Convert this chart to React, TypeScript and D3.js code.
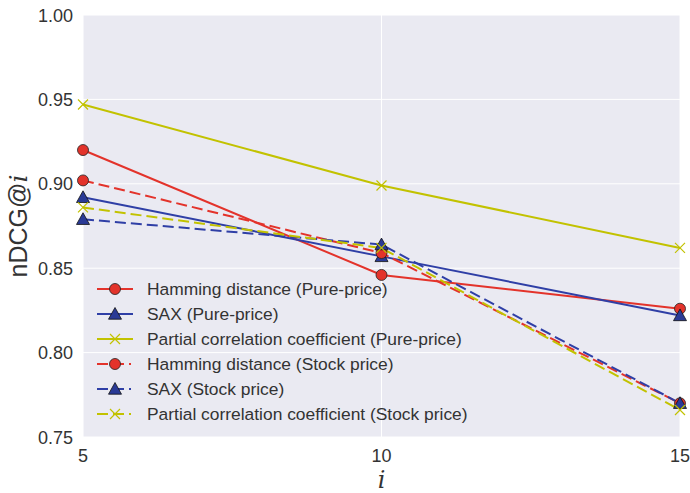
import { useEffect, useRef } from "react";
import * as d3 from "d3";

const ks = [5, 10, 15];
const hammingPure = [0.92, 0.846, 0.826];
const saxPure = [0.892, 0.857, 0.822];
const pccPure = [0.947, 0.899, 0.862];
const hammingStock = [0.902, 0.859, 0.77];
const saxStock = [0.879, 0.864, 0.77];
const pccStock = [0.886, 0.862, 0.766];
const yTicks = [0.75, 0.8, 0.85, 0.9, 0.95, 1.0];

const RED = "#e3332b";
const BLUE = "#2f3fa6";
const YEL = "#c2c200";

const series = [
  { name: "Hamming distance (Pure-price)", values: hammingPure, color: RED, marker: "circle", dashed: false },
  { name: "SAX (Pure-price)", values: saxPure, color: BLUE, marker: "triangle", dashed: false },
  { name: "Partial correlation coefficient (Pure-price)", values: pccPure, color: YEL, marker: "x", dashed: false },
  { name: "Hamming distance (Stock price)", values: hammingStock, color: RED, marker: "circle", dashed: true },
  { name: "SAX (Stock price)", values: saxStock, color: BLUE, marker: "triangle", dashed: true },
  { name: "Partial correlation coefficient (Stock price)", values: pccStock, color: YEL, marker: "x", dashed: true },
];

const App = () => {
  const svgRef = useRef<SVGSVGElement>(null);

  useEffect(() => {
    const svg = d3.select(svgRef.current);
    svg.selectAll("*").remove();

    const width = 690;
    const height = 493;
    const margin = { top: 15, right: 10, bottom: 56, left: 83 };
    const font = "'Liberation Sans', Arial, sans-serif";

    const x = d3.scaleLinear().domain([5, 15]).range([margin.left, width - margin.right]);
    const y = d3.scaleLinear().domain([0.75, 1.0]).range([height - margin.bottom, margin.top]);

    // arka plan
    svg.append("rect")
      .attr("x", margin.left)
      .attr("y", margin.top)
      .attr("width", width - margin.left - margin.right)
      .attr("height", height - margin.top - margin.bottom)
      .attr("fill", "#eaeaf2");

    const grid = svg.append("g");
    yTicks.forEach((t) => {
      grid.append("line")
        .attr("x1", margin.left).attr("x2", width - margin.right)
        .attr("y1", y(t)).attr("y2", y(t))
        .attr("stroke", "white").attr("stroke-width", 1);
      svg.append("text")
        .attr("x", margin.left - 10)
        .attr("y", y(t) + 6.5)
        .attr("text-anchor", "end")
        .attr("font-family", font)
        .attr("font-size", 18)
        .attr("fill", "#333")
        .text(t.toFixed(2));
    });
    ks.forEach((k) => {
      grid.append("line")
        .attr("x1", x(k)).attr("x2", x(k))
        .attr("y1", margin.top).attr("y2", height - margin.bottom)
        .attr("stroke", "white").attr("stroke-width", 1);
      svg.append("text")
        .attr("x", x(k))
        .attr("y", height - margin.bottom + 25)
        .attr("text-anchor", "middle")
        .attr("font-family", font)
        .attr("font-size", 18)
        .attr("fill", "#333")
        .text(k);
    });

    const drawMarker = (g: any, cx: number, cy: number, s: any) => {
      if (s.marker === "circle") {
        g.append("circle").attr("cx", cx).attr("cy", cy).attr("r", 5.5)
          .attr("fill", s.color).attr("stroke", "#222").attr("stroke-width", 0.8);
      } else if (s.marker === "triangle") {
        const r = 6.5;
        g.append("path")
          .attr("d", `M${cx},${cy - r}L${cx + r},${cy + r * 0.8}L${cx - r},${cy + r * 0.8}Z`)
          .attr("fill", "#2a3a96").attr("stroke", "#111").attr("stroke-width", 0.8);
      } else {
        const r = 5;
        g.append("path")
          .attr("d", `M${cx - r},${cy - r}L${cx + r},${cy + r}M${cx - r},${cy + r}L${cx + r},${cy - r}`)
          .attr("stroke", s.color).attr("stroke-width", 1.2).attr("fill", "none");
      }
    };

    const plot = svg.append("g");
    const line = d3.line<number>().x((_, i) => x(ks[i])).y((d) => y(d));
    series.forEach((s) => {
      plot.append("path")
        .attr("d", line(s.values))
        .attr("fill", "none")
        .attr("stroke", s.color)
        .attr("stroke-width", 2)
        .attr("stroke-dasharray", s.dashed ? "11,5" : null);
    });
    series.forEach((s) => {
      s.values.forEach((v, i) => drawMarker(plot, x(ks[i]), y(v), s));
    });

    // legend
    const lg = svg.append("g");
    series.forEach((s, i) => {
      const ly = 289 + i * 25;
      if (s.dashed) {
        lg.append("line").attr("x1", 97).attr("x2", 108).attr("y1", ly).attr("y2", ly)
          .attr("stroke", s.color).attr("stroke-width", 2);
        lg.append("line").attr("x1", 113).attr("x2", 124).attr("y1", ly).attr("y2", ly)
          .attr("stroke", s.color).attr("stroke-width", 2);
        lg.append("line").attr("x1", 129).attr("x2", 131).attr("y1", ly).attr("y2", ly)
          .attr("stroke", s.color).attr("stroke-width", 2);
      } else {
        lg.append("line").attr("x1", 97).attr("x2", 133).attr("y1", ly).attr("y2", ly)
          .attr("stroke", s.color).attr("stroke-width", 2);
      }
      drawMarker(lg, 115, ly, s);
      lg.append("text")
        .attr("x", 147)
        .attr("y", ly + 6)
        .attr("font-family", font)
        .attr("font-size", 17.4)
        .attr("fill", "#333")
        .text(s.name);
    });

    // axis labels
    svg.append("text")
      .attr("x", x(10))
      .attr("y", 488)
      .attr("text-anchor", "middle")
      .attr("font-family", "'DejaVu Serif', serif")
      .attr("font-style", "italic")
      .attr("font-size", 24)
      .attr("fill", "#333")
      .text("i");

    const yl = svg.append("text")
      .attr("transform", `translate(27, ${(margin.top + height - margin.bottom) / 2}) rotate(-90)`)
      .attr("text-anchor", "middle")
      .attr("font-family", font)
      .attr("font-size", 25)
      .attr("fill", "#333");
    yl.append("tspan").text("nDCG@");
    yl.append("tspan")
      .attr("font-family", "'DejaVu Serif', serif")
      .attr("font-style", "italic")
      .text("i");
  }, []);

  return (
    <svg
      ref={svgRef}
      width={690}
      height={493}
      style={{ position: "absolute", left: 0, top: 0, background: "white" }}
    />
  );
};

export default App;
